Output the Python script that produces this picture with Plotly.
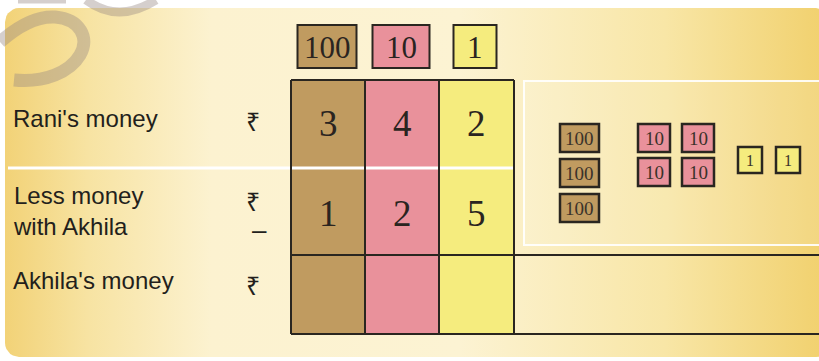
import numpy as np
import plotly.graph_objects as go

# ---- data ----
places = ["100", "10", "1"]
place_colors = ["#c09b60", "#e9919b", "#f5ec7e"]
rani_digits = [3, 4, 2]
less_digits = [1, 2, 5]
row_labels = ["Rani's money", "Less money<br>with Akhila", "Akhila's money"]
rupee = "\u20b9"

W, H = 819, 361
fig = go.Figure()

# ---- background panel with horizontal gradient (rounded left corners) ----
def rounded_rect(x0, y0, x1, y1, r):
    xs, ys = [], []
    for cx, cy, a0 in [(x0 + r, y0 + r, 180), (x1 - r, y0 + r, 270),
                       (x1 - r, y1 - r, 0), (x0 + r, y1 - r, 90)]:
        for a in np.linspace(a0, a0 + 90, 8):
            xs.append(cx + r * np.cos(np.radians(a)))
            ys.append(cy + r * np.sin(np.radians(a)))
    xs.append(xs[0]); ys.append(ys[0])
    return xs, ys

bx, by = rounded_rect(5, 8, 830, 357, 14)
fig.add_trace(go.Scatter(
    x=bx, y=by, mode="lines", fill="toself", line=dict(width=0),
    fillgradient=dict(type="horizontal", colorscale=[
        [0.0, "#f2d277"], [0.1, "#f7e3a2"], [0.25, "#fcf2d0"],
        [0.55, "#fcf3d3"], [0.8, "#f8e6a6"], [1.0, "#f1d06c"]]),
    hoverinfo="skip", showlegend=False))

shapes = []
annotations = []

# ---- watermark strokes ----
wm = "rgba(150,135,130,0.40)"
shapes.append(dict(type="path", path="M 0,42 C 18,26 38,16 55,17 C 80,19 90,38 80,55 C 70,72 45,83 14,80",
                   line=dict(color=wm, width=13), layer="above"))
shapes.append(dict(type="path", path="M 86,0 Q 118,24 156,0",
                   line=dict(color=wm, width=9), layer="above"))
shapes.append(dict(type="path", path="M 18,1 L 66,1",
                   line=dict(color=wm, width=5), layer="above"))

# ---- table geometry ----
col_x = [291, 365, 439, 514]
row_y = [80, 168, 255, 334]

for i in range(3):
    shapes.append(dict(type="rect", x0=col_x[i], x1=col_x[i + 1], y0=row_y[0], y1=row_y[3],
                       fillcolor=place_colors[i], line=dict(width=0), layer="above"))

shapes.append(dict(type="rect", x0=524, x1=830, y0=81, y1=245,
                   fillcolor="rgba(255,255,255,0.12)",
                   line=dict(color="rgba(255,255,255,0.9)", width=2), layer="above"))

shapes.append(dict(type="line", x0=8, x1=515, y0=168, y1=168,
                   line=dict(color="white", width=3), layer="above"))

blk = dict(color="#2a2620", width=2)
for xv in col_x:
    shapes.append(dict(type="line", x0=xv, x1=xv, y0=row_y[0], y1=row_y[3], line=blk, layer="above"))
shapes.append(dict(type="line", x0=col_x[0], x1=col_x[3], y0=row_y[0], y1=row_y[0], line=blk, layer="above"))
shapes.append(dict(type="line", x0=col_x[0], x1=830, y0=row_y[2], y1=row_y[2], line=blk, layer="above"))
shapes.append(dict(type="line", x0=col_x[0], x1=830, y0=row_y[3], y1=row_y[3], line=blk, layer="above"))

hdr_cx = [327, 401, 475]
hdr_w = [59, 57, 43]
for i, p in enumerate(places):
    shapes.append(dict(type="rect", x0=hdr_cx[i] - hdr_w[i] / 2, x1=hdr_cx[i] + hdr_w[i] / 2,
                       y0=25, y1=68, fillcolor=place_colors[i], line=blk, layer="above"))
    annotations.append(dict(x=hdr_cx[i], y=47, text=p, showarrow=False,
                            font=dict(family="Liberation Serif", size=31, color="#2a2420")))

serif = dict(family="Liberation Serif", size=37, color="#2a2420")
for i in range(3):
    cx = (col_x[i] + col_x[i + 1]) / 2
    annotations.append(dict(x=cx, y=123, text=str(rani_digits[i]), showarrow=False, font=serif))
    annotations.append(dict(x=cx, y=213, text=str(less_digits[i]), showarrow=False, font=serif))

sans = dict(family="Liberation Sans", size=24, color="#231f1c")
label_y = [118, 211, 280]
for lbl, yv in zip(row_labels, label_y):
    annotations.append(dict(x=11, y=yv, text=lbl, showarrow=False, xanchor="left", align="left",
                            font=sans))
for yv in [121, 201, 285]:
    annotations.append(dict(x=253, y=yv, text=rupee, showarrow=False,
                            font=dict(family="Noto Sans", size=25, color="#231f1c")))
annotations.append(dict(x=259, y=230, text="\u2013", showarrow=False,
                        font=dict(family="Liberation Sans", size=26, color="#231f1c")))

note_layout = {
    "100": dict(x0=560, y0=124, w=39, h=28, dx=44, dy=35, cols=1, fs=19),
    "10": dict(x0=638, y0=124, w=32, h=28, dx=44, dy=34, cols=2, fs=19),
    "1": dict(x0=738, y0=147, w=24, h=26, dx=38, dy=34, cols=2, fs=16),
}
for i, p in enumerate(places):
    L = note_layout[p]
    for k in range(rani_digits[i]):
        c, r = k % L["cols"], k // L["cols"]
        x0 = L["x0"] + c * L["dx"]
        y0 = L["y0"] + r * L["dy"]
        shapes.append(dict(type="rect", x0=x0, x1=x0 + L["w"], y0=y0, y1=y0 + L["h"],
                           fillcolor=place_colors[i], line=dict(color="#2a2620", width=2.5),
                           layer="above"))
        annotations.append(dict(x=x0 + L["w"] / 2, y=y0 + L["h"] / 2, text=p, showarrow=False,
                                font=dict(family="Liberation Serif", size=L["fs"], color="#3a322a")))

fig.update_layout(
    width=W, height=H, margin=dict(l=0, r=0, t=0, b=0),
    paper_bgcolor="white", plot_bgcolor="white",
    xaxis=dict(range=[0, W], visible=False, fixedrange=True),
    yaxis=dict(range=[H, 0], visible=False, fixedrange=True),
    shapes=shapes, annotations=annotations, showlegend=False,
)
fig.write_html("out.html", config={"displayModeBar": False},
               post_script="document.body.style.margin='0';")
